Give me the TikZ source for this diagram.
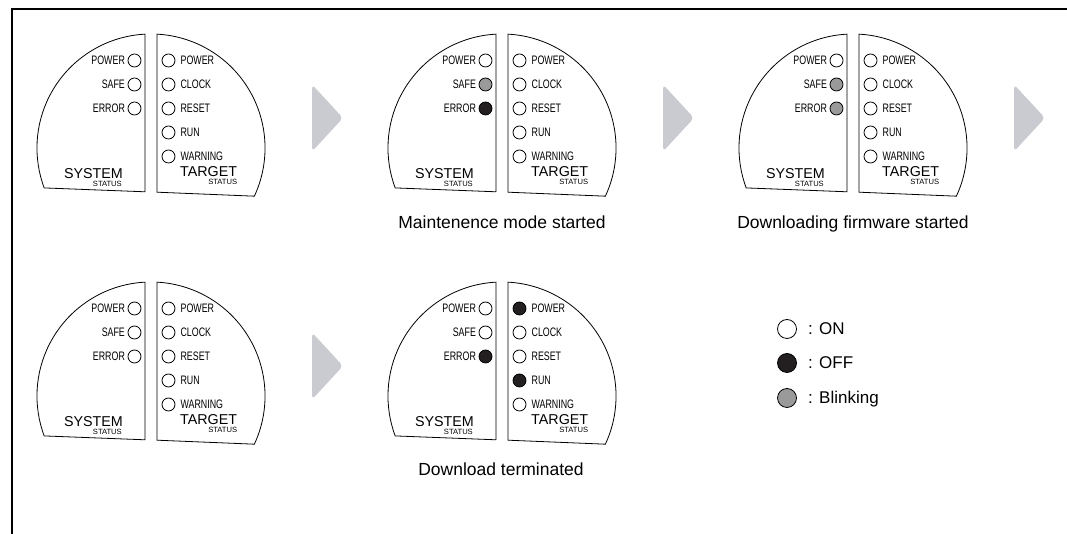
\documentclass[tikz,border=0pt]{standalone}
\usepackage{fontspec}
\setmainfont{Liberation Sans}
\newfontfamily\ledfont[FakeStretch=0.72]{Liberation Sans}
\usetikzlibrary{positioning}

\definecolor{stepgray}{RGB}{201,203,209}
\definecolor{blinkgray}{RGB}{154,154,154}
\definecolor{ledblack}{RGB}{35,31,32}

\tikzset{
  ledon/.style={circle, draw, line width=0.8pt, fill=white, minimum size=13pt, inner sep=0pt},
  ledoff/.style={ledon, fill=ledblack},
  ledblink/.style={ledon, fill=blinkgray},
  keyled/.style={ledon, minimum size=19pt},
  ledname/.style={font=\ledfont\fontsize{12.3}{12}\selectfont, inner sep=0pt},
  boardname/.style={font=\fontsize{14.3}{14}\selectfont, inner sep=0pt},
  boardsub/.style={font=\fontsize{7.6}{8}\selectfont, inner sep=0pt},
  caption/.style={font=\fontsize{17.5}{18}\selectfont, inner sep=0pt},
  board/.style={line width=0.8pt},
  stepfill/.style={fill=stepgray, rounded corners=4pt},
}

% one status board: #1 name, #2 centre, #3 system LEDs, #4 target LEDs
\newcommand\ledpanel[4]{%
\begin{scope}[shift={#2}]
\draw[board] (-6,-43.8) -- (-6,113.84) arc[start angle=93, end angle=200.5, radius=114] -- cycle;
\draw[board] (6,-44.2) -- (6,113.84) arc[start angle=87, end angle=-25, radius=114] -- cycle;
\foreach \st [count=\i] in {#3} {
  \node[\st] (#1-s\i) at (-16.5,111.5-24*\i) {};
  \node[ledname, left=2.5pt of #1-s\i] (#1-sl\i) {\ifcase\i\or POWER\or SAFE\or ERROR\fi};
}
\foreach \st [count=\i] in {#4} {
  \node[\st] (#1-t\i) at (17.5,111.5-24*\i) {};
  \node[ledname, right=5pt of #1-t\i] (#1-tl\i) {\ifcase\i\or POWER\or CLOCK\or RESET\or RUN\or WARNING\fi};
}
\node[boardname, anchor=base east] (#1-sys) at (-28,-30.5) {SYSTEM};
\node[boardsub, anchor=base east] (#1-sysst) at (-29,-38.5) {STATUS};
\node[boardname, anchor=base west] (#1-tgt) at (29,-29) {TARGET};
\node[boardsub, anchor=base east, yshift=-8pt] (#1-tgtst) at (#1-tgt.base east) {STATUS};
\end{scope}}

\begin{document}
\begin{tikzpicture}[x=1pt,y=1pt]
\useasboundingbox (0,0) rectangle (1067,534);
\draw[line width=1.6pt] (12,0) -- (12,525) -- (1067,525);

\ledpanel{p1}{(151,386)}{ledon,ledon,ledon}{ledon,ledon,ledon,ledon,ledon}
\ledpanel{p2}{(502,386)}{ledon,ledblink,ledoff}{ledon,ledon,ledon,ledon,ledon}
\ledpanel{p3}{(853,386)}{ledon,ledblink,ledblink}{ledon,ledon,ledon,ledon,ledon}
\ledpanel{p4}{(151,138)}{ledon,ledon,ledon}{ledon,ledon,ledon,ledon,ledon}
\ledpanel{p5}{(502,138)}{ledon,ledon,ledoff}{ledoff,ledon,ledon,ledoff,ledon}

% captions under the boards
\node[caption, anchor=base] (c2) at (502,305) {Maintenence mode started};
\node[caption, anchor=base] (c3) at (853,305) {Downloading firmware started};
\node[caption, anchor=base] (c5) at (501,58) {Download terminated};

% grey step marks between the boards
\foreach \x/\y in {312/416, 663/416, 1014/416, 312/168}
  \fill[stepfill] (\x,\y) ++(0,33.5) -- ++(0,-67) -- ++(31,33.5) -- cycle;

% key
\node[keyled] (k1) at (787,205) {};
\node[keyled, fill=ledblack] (k2) at (787,171) {};
\node[keyled, fill=blinkgray] (k3) at (787,136) {};
\node[caption, font=\fontsize{17}{18}\selectfont, anchor=base west] (k1t) at (808,199) {: ON};
\node[caption, font=\fontsize{17}{18}\selectfont, anchor=base west] (k2t) at (808,165) {: OFF};
\node[caption, font=\fontsize{17}{18}\selectfont, anchor=base west] (k3t) at (808,130) {: Blinking};
\end{tikzpicture}
\end{document}
